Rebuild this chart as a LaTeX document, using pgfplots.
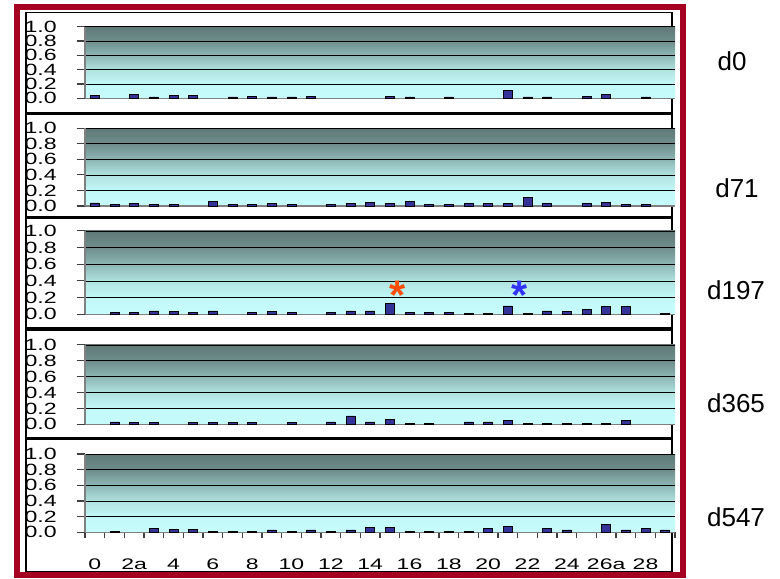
\documentclass[border=0pt]{standalone}
\usepackage{pgfplots}
\pgfplotsset{compat=1.18}
\usepackage{fontspec}
\setmainfont{Liberation Sans}

\definecolor{barblue}{RGB}{51,51,153}
\definecolor{frame}{RGB}{165,0,33}
\definecolor{wA}{RGB}{198,252,252}
\definecolor{wB}{RGB}{194,248,248}
\definecolor{wC}{RGB}{176,226,224}
\definecolor{wD}{RGB}{140,182,180}
\definecolor{wE}{RGB}{110,142,140}
\definecolor{wF}{RGB}{95,121,119}
\pgfdeclareverticalshading{wall}{100bp}{color(0bp)=(wA); color(25bp)=(wA); color(35bp)=(wB); color(45bp)=(wC); color(55bp)=(wD); color(65bp)=(wE); color(75bp)=(wF); color(100bp)=(wF)}

\pgfplotsset{
  panel/.style={
    scale only axis, width=442.5pt, xmin=-0.5, xmax=29.5, ymin=0, ymax=1,
    ybar, bar width=6.75pt,
    axis x line*=bottom, axis y line*=left,
    axis line style={black!50, line width=0.9pt},
    ytick={0,0.2,0.4,0.6,0.8,1}, yticklabels={0.0,0.2,0.4,0.6,0.8,1.0},
    ymajorgrids, grid style={black, line width=0.6pt},
    tick align=outside, major tick length=6pt,
    ytick style={black!75, line width=0.8pt},
    yticklabel style={font=\fontsize{12.2}{12}\selectfont, xscale=1.42, anchor=east, inner sep=0pt, xshift=-10.5pt},
    xtick=\empty,
    axis background/.style={shading=wall},
    clip=false,
  },
  bars/.style={fill=barblue, draw=black, line width=0.5pt},
}

\begin{document}
\begin{tikzpicture}
\begin{scope}[x=0.75pt,y=0.75pt]
\useasboundingbox (0,0) rectangle (780,578);
\fill[white] (0,0) rectangle (780,578);
% panels
\draw[black, line width=1.1pt] (26,465.3) rectangle (672,565.3);
\draw[black, line width=1.1pt] (26,361) rectangle (672,464);
\draw[black, line width=1.1pt] (26,250) rectangle (672,359.5);
\draw[black, line width=1.1pt] (26,140) rectangle (672,248);
\draw[black, line width=1.1pt] (26,6) rectangle (672,139);
% outer frame
\draw[frame, line width=4.6pt] (17.3,2.7) rectangle (683.3,571);
% right labels
\node[font=\fontsize{19.5}{20}\selectfont] at (732,516.3) {d0};
\node[font=\fontsize{19.5}{20}\selectfont] at (737,390) {d71};
\node[font=\fontsize{19.5}{20}\selectfont] at (736,288) {d197};
\node[font=\fontsize{19.5}{20}\selectfont] at (736,175) {d365};
\node[font=\fontsize{19.5}{20}\selectfont] at (736,61) {d547};
\end{scope}

% d0
\begin{axis}[panel, height=53.7pt, at={(63.75pt,359.78pt)}, anchor=south west]
\addplot[bars] coordinates {(0,0.04) (2,0.05) (3,0.02) (4,0.04) (5,0.04) (7,0.02) (8,0.03) (9,0.02) (10,0.02) (11,0.03) (15,0.03) (16,0.02) (18,0.02) (21,0.11) (22,0.02) (23,0.02) (25,0.03) (26,0.055) (28,0.02)};
\end{axis}

% d71
\begin{axis}[panel, height=58.3pt, at={(63.75pt,279pt)}, anchor=south west]
\addplot[bars] coordinates {(0,0.04) (1,0.02) (2,0.035) (3,0.02) (4,0.02) (6,0.055) (7,0.02) (8,0.02) (9,0.035) (10,0.02) (12,0.02) (13,0.035) (14,0.05) (15,0.035) (16,0.055) (17,0.02) (18,0.02) (19,0.035) (20,0.035) (21,0.035) (22,0.115) (23,0.035) (25,0.035) (26,0.05) (27,0.02) (28,0.02)};
\end{axis}

% d197
\begin{axis}[panel, height=62.5pt, at={(63.75pt,197.78pt)}, anchor=south west]
\addplot[bars] coordinates {(1,0.02) (2,0.02) (3,0.04) (4,0.03) (5,0.02) (6,0.04) (8,0.02) (9,0.03) (10,0.02) (12,0.02) (13,0.04) (14,0.04) (15,0.135) (16,0.025) (17,0.025) (18,0.025) (19,0.015) (20,0.015) (21,0.1) (22,0.015) (23,0.04) (24,0.035) (25,0.055) (26,0.09) (27,0.09) (29,0.015)};
\node[font=\bfseries\fontsize{31}{31}\selectfont, text=orange!60!red, anchor=base, inner sep=0pt] at (axis cs:15.37,0.06) {*};
\node[font=\bfseries\fontsize{31}{31}\selectfont, text=blue!80!white, anchor=base, inner sep=0pt] at (axis cs:21.61,0.06) {*};
\end{axis}

% d365
\begin{axis}[panel, height=59.5pt, at={(63.75pt,115.28pt)}, anchor=south west]
\addplot[bars] coordinates {(1,0.03) (2,0.02) (3,0.02) (5,0.02) (6,0.02) (7,0.02) (8,0.02) (10,0.02) (12,0.03) (13,0.105) (14,0.03) (15,0.06) (16,0.015) (17,0.015) (19,0.03) (20,0.03) (21,0.045) (22,0.015) (23,0.015) (24,0.015) (25,0.015) (26,0.015) (27,0.045)};
\end{axis}

% d547
\begin{axis}[panel, height=58.7pt, at={(63.75pt,34.28pt)}, anchor=south west,
  xtick={0,2,4,6,8,10,12,14,16,18,20,22,24,26,28},
  xticklabels={0,2a,4,6,8,10,12,14,16,18,20,22,24,26a,28},
  minor xtick={-0.5,0.5,...,29.5},
  minor tick length=4.5pt,
  major x tick style={draw=none},
  minor x tick style={black!75, line width=0.8pt},
  xticklabel style={font=\fontsize{11.5}{12}\selectfont, xscale=1.5, anchor=north, inner sep=0pt, yshift=-14pt}]
\addplot[bars] coordinates {(1,0.015) (3,0.045) (4,0.035) (5,0.035) (6,0.015) (7,0.015) (8,0.015) (9,0.03) (10,0.015) (11,0.03) (12,0.015) (13,0.03) (14,0.065) (15,0.065) (16,0.015) (17,0.015) (18,0.015) (19,0.015) (20,0.045) (21,0.08) (23,0.045) (24,0.03) (26,0.105) (27,0.03) (28,0.045) (29,0.03)};
\end{axis}
\end{tikzpicture}
\end{document}
